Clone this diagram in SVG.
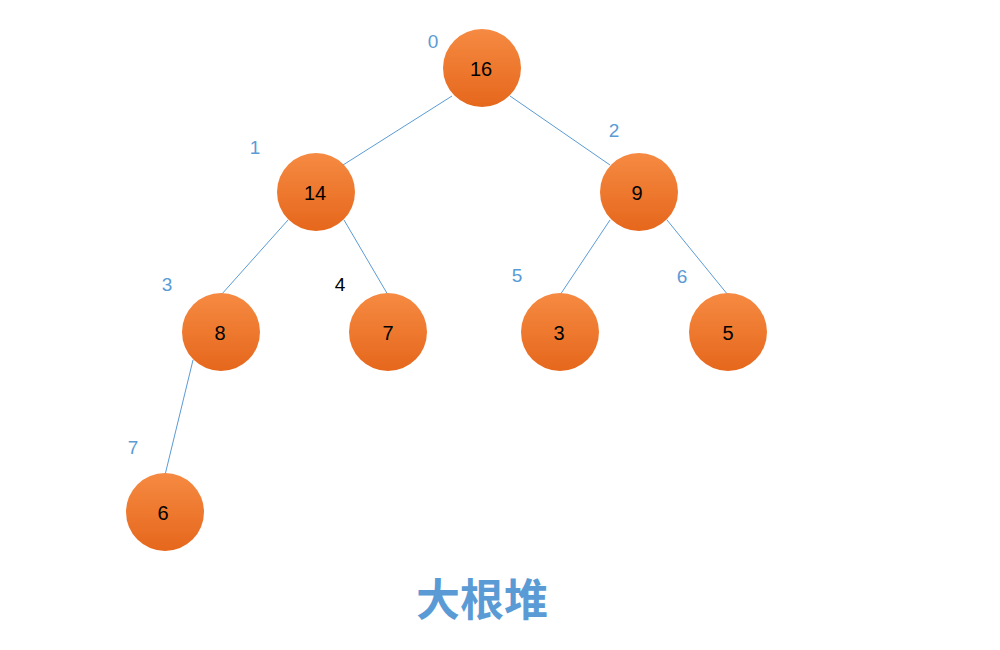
<svg xmlns="http://www.w3.org/2000/svg" width="1000" height="650" viewBox="0 0 1000 650">
<defs>
<linearGradient id="g" x1="0" y1="0" x2="0" y2="1"><stop offset="0" stop-color="#F68A42"/><stop offset="1" stop-color="#E5671C"/></linearGradient>
<style>
.n{fill:url(#g)}
.t{font-family:"Liberation Sans",Arial,sans-serif;font-size:20px;fill:#000;text-anchor:middle;dominant-baseline:central}
.i{font-family:"Liberation Sans",Arial,sans-serif;font-size:19px;fill:#5B9BD5;text-anchor:middle;dominant-baseline:central}
.e{stroke:#5B9BD5;stroke-width:1;fill:none}
</style>
</defs>
<rect width="1000" height="650" fill="#fff"/>
<g id="connectors">
<line class="e" x1="452" y1="96" x2="343" y2="165"/>
<line class="e" x1="510" y1="96" x2="610" y2="165"/>
<line class="e" x1="288" y1="220" x2="221" y2="295"/>
<line class="e" x1="344" y1="220" x2="388" y2="295"/>
<line class="e" x1="610" y1="220" x2="560" y2="295"/>
<line class="e" x1="667" y1="220" x2="728" y2="295"/>
<line class="e" x1="193" y1="360" x2="165" y2="475"/>
</g>
<g id="n0"><circle class="n" cx="482" cy="68" r="39"/><text class="t" x="481" y="69">16</text><text class="i" x="433" y="41">0</text></g>
<g id="n1"><circle class="n" cx="316" cy="192" r="39"/><text class="t" x="315" y="193">14</text><text class="i" x="255" y="147">1</text></g>
<g id="n2"><circle class="n" cx="639" cy="192" r="39"/><text class="t" x="637" y="193">9</text><text class="i" x="614" y="130">2</text></g>
<g id="n3"><circle class="n" cx="221" cy="332" r="39"/><text class="t" x="220" y="333">8</text><text class="i" x="167" y="284">3</text></g>
<g id="n4"><circle class="n" cx="388" cy="332" r="39"/><text class="t" x="388" y="333">7</text><text class="i" x="340" y="284" style="fill:#000">4</text></g>
<g id="n5"><circle class="n" cx="560" cy="332" r="39"/><text class="t" x="559" y="333">3</text><text class="i" x="517" y="275">5</text></g>
<g id="n6"><circle class="n" cx="728" cy="332" r="39"/><text class="t" x="728" y="333">5</text><text class="i" x="682" y="276">6</text></g>
<g id="n7"><circle class="n" cx="165" cy="512" r="39"/><text class="t" x="163" y="513">6</text><text class="i" x="133" y="447">7</text></g>
<text x="482" y="616" style="font-family:'Noto Sans CJK SC',sans-serif;font-size:44px;font-weight:bold;fill:#5B9BD5;text-anchor:middle">大根堆</text>
</svg>
